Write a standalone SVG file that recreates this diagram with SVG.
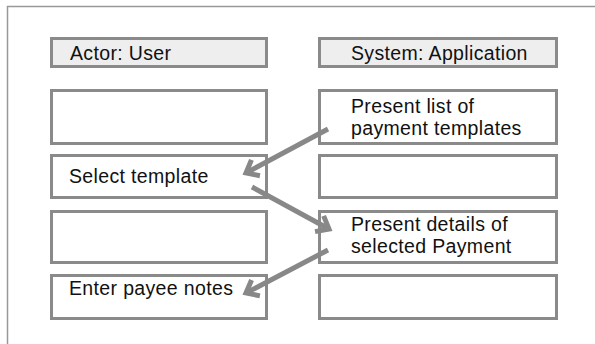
<svg xmlns="http://www.w3.org/2000/svg" width="595" height="344" viewBox="0 0 595 344">
<style>
.box{fill:#ffffff;stroke:#8a8a8a;stroke-width:3}
.hdr{fill:#eeeeee;stroke:#8a8a8a;stroke-width:3}
.t{font-family:"Liberation Sans",Arial,sans-serif;font-size:19.5px;letter-spacing:0.35px;fill:#111111}
.arr{stroke:#888888;stroke-width:5;fill:none;marker-end:url(#ah)}
</style>
<defs>
<marker id="ah" markerUnits="userSpaceOnUse" viewBox="0 0 24 24" markerWidth="24" markerHeight="24" refX="18" refY="12" orient="auto">
<path d="M7,3 L18,12 L7,21" fill="none" stroke="#888888" stroke-width="5" stroke-linejoin="miter"/>
</marker>
</defs>
<rect x="0" y="0" width="595" height="344" fill="#ffffff"/>
<rect x="7.5" y="6.5" width="620" height="400" fill="none" stroke="#999999" stroke-width="1.5"/>
<g id="actor-header"><rect class="hdr" x="51.5" y="38.5" width="215" height="28"/><text class="t" x="70" y="60">Actor: User</text></g>
<g id="system-header"><rect class="hdr" x="319.5" y="38.5" width="237" height="28"/><text class="t" x="351" y="60">System: Application</text></g>
<g id="user-1"><rect class="box" x="51.5" y="90.5" width="215" height="53"/></g>
<g id="sys-1"><rect class="box" x="319.5" y="90.5" width="237" height="53"/><text class="t" x="351" y="113">Present list of<tspan x="351" dy="22">payment templates</tspan></text></g>
<g id="user-2"><rect class="box" x="51.5" y="155.5" width="215" height="42"/><text class="t" x="69" y="183">Select template</text></g>
<g id="sys-2"><rect class="box" x="319.5" y="155.5" width="237" height="42"/></g>
<g id="user-3"><rect class="box" x="51.5" y="211.5" width="215" height="51"/></g>
<g id="sys-3"><rect class="box" x="319.5" y="211.5" width="237" height="51"/><text class="t" x="351" y="231">Present details of<tspan x="351" dy="22">selected Payment</tspan></text></g>
<g id="user-4"><rect class="box" x="51.5" y="275.5" width="215" height="43"/><text class="t" x="69" y="295">Enter payee notes</text></g>
<g id="sys-4"><rect class="box" x="319.5" y="275.5" width="237" height="43"/></g>
<g id="connectors">
<line class="arr" x1="328" y1="129" x2="246" y2="173"/>
<line class="arr" x1="252" y1="187" x2="329" y2="229"/>
<line class="arr" x1="328" y1="250" x2="246" y2="293"/>
</g>
</svg>
